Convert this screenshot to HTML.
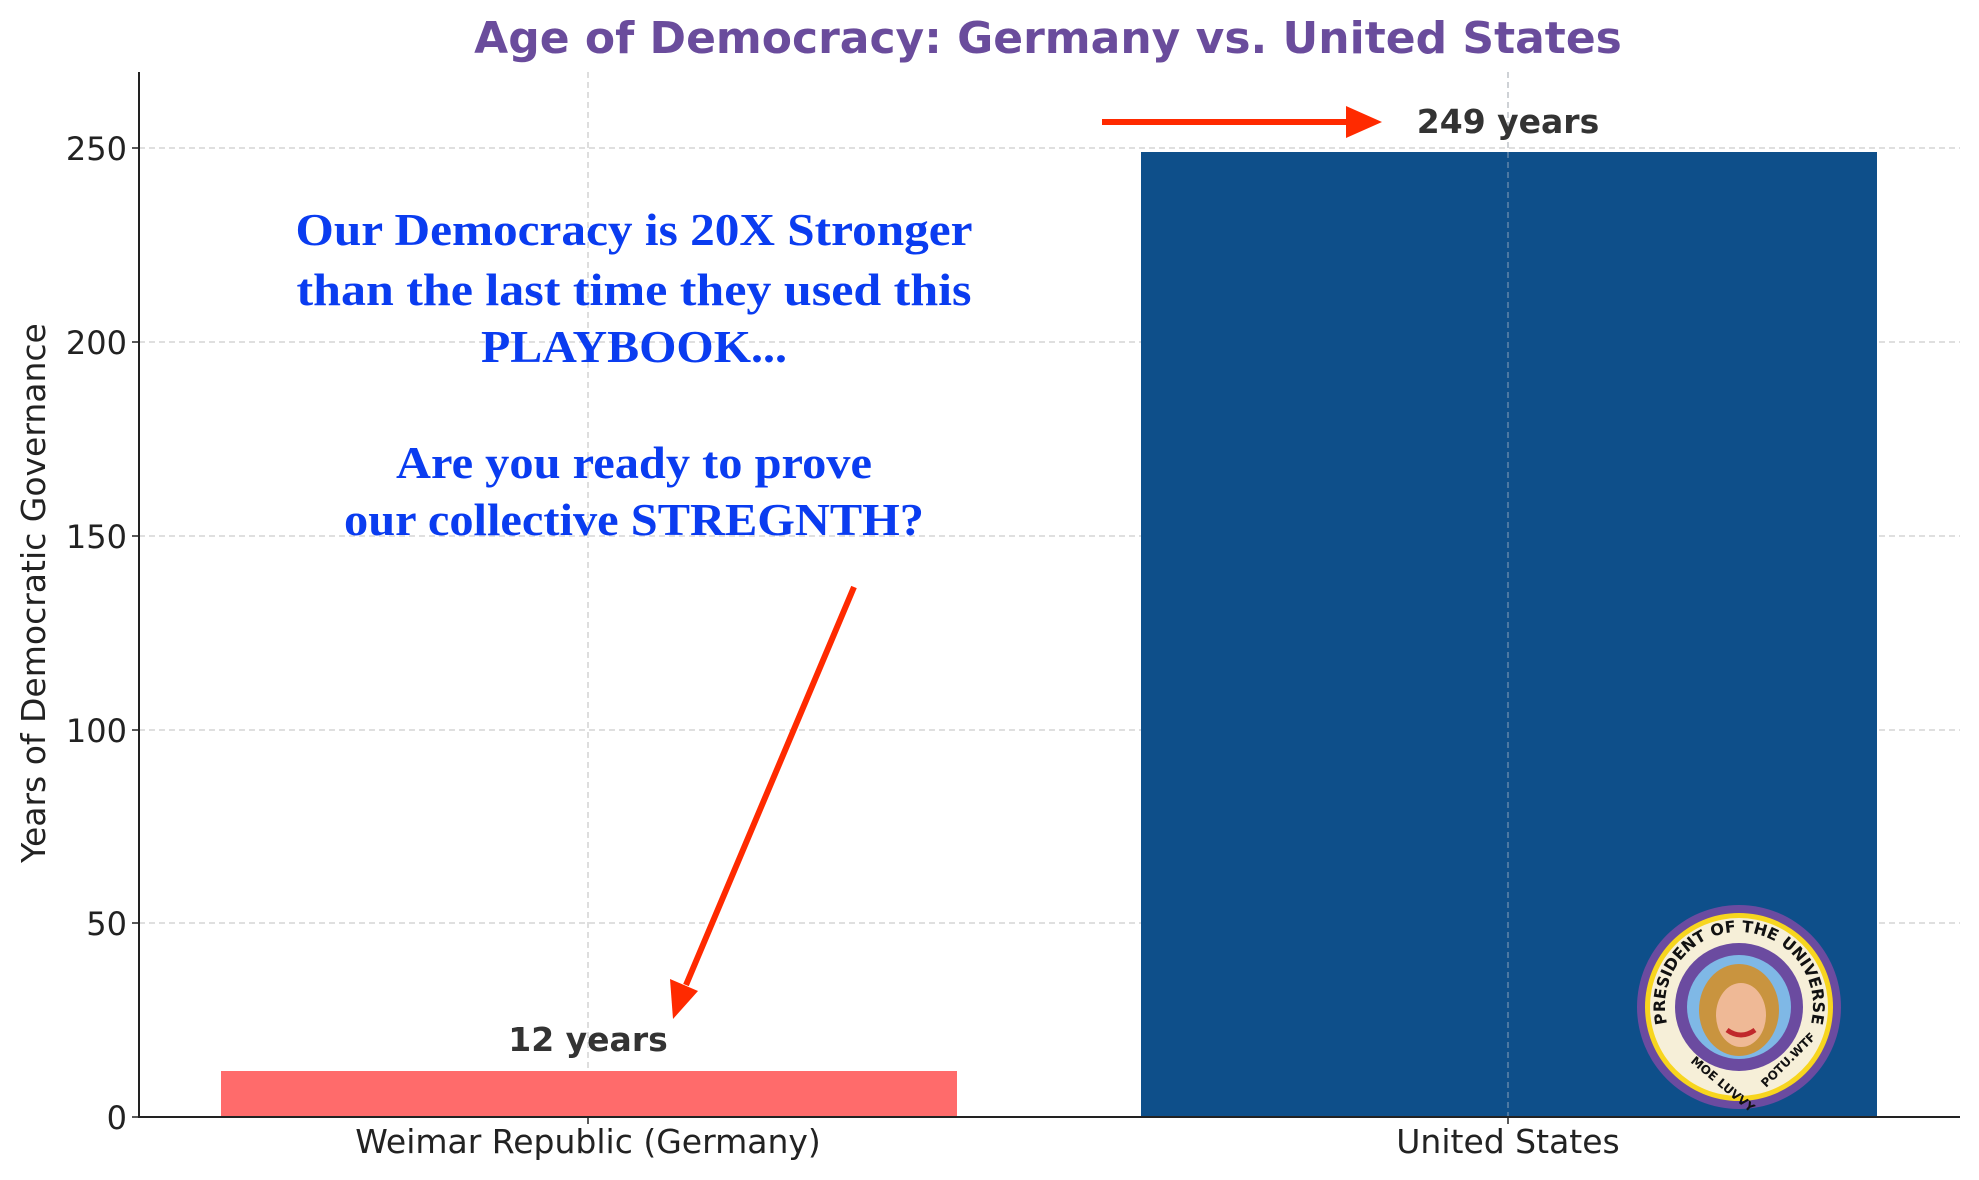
<!DOCTYPE html>
<html><head><meta charset="utf-8"><style>html,body{margin:0;padding:0;background:#fff}svg{display:block}</style></head>
<body>
<svg width="1979" height="1180" viewBox="0 0 1979 1180" xmlns="http://www.w3.org/2000/svg" font-family="DejaVu Sans, Liberation Sans, sans-serif">
<rect width="1979" height="1180" fill="#fff"/>
<!-- grid -->
<g stroke="#cccccc" stroke-width="1.3" stroke-dasharray="6,4">
<line x1="139" x2="1960" y1="148" y2="148"/>
<line x1="139" x2="1960" y1="342" y2="342"/>
<line x1="139" x2="1960" y1="536" y2="536"/>
<line x1="139" x2="1960" y1="730" y2="730"/>
<line x1="139" x2="1960" y1="923" y2="923"/>
<line x1="588" x2="588" y1="72" y2="1117"/>
</g>
<!-- bars -->
<rect x="221" y="1071" width="736" height="46" fill="#ff6b6b"/>
<rect x="1141" y="152" width="736" height="965" fill="#0e4f8a"/>
<line x1="1508" x2="1508" y1="72" y2="1117" stroke="#6f8fb0" stroke-width="1.3" stroke-dasharray="6,4"/>
<line x1="1508" x2="1508" y1="72" y2="152" stroke="#cccccc" stroke-width="1.3" stroke-dasharray="6,4"/>
<!-- axes -->
<line x1="139" x2="139" y1="72" y2="1118" stroke="#222" stroke-width="2"/>
<line x1="138" x2="1960" y1="1117" y2="1117" stroke="#222" stroke-width="2"/>
<g stroke="#222" stroke-width="1.5">
<line x1="132" x2="139" y1="148" y2="148"/><line x1="132" x2="139" y1="342" y2="342"/><line x1="132" x2="139" y1="536" y2="536"/><line x1="132" x2="139" y1="730" y2="730"/><line x1="132" x2="139" y1="923" y2="923"/><line x1="132" x2="139" y1="1117" y2="1117"/>
<line x1="588" x2="588" y1="1117" y2="1124"/><line x1="1508" x2="1508" y1="1117" y2="1124"/>
</g>
<g font-size="32" fill="#222" text-anchor="end">
<text x="127" y="160">250</text><text x="127" y="354">200</text><text x="127" y="548">150</text><text x="127" y="742">100</text><text x="127" y="935">50</text><text x="127" y="1129">0</text>
</g>
<g font-size="33" fill="#222" text-anchor="middle">
<text x="588" y="1153">Weimar Republic (Germany)</text>
<text x="1508" y="1153">United States</text>
</g>
<text transform="translate(45,593) rotate(-90)" font-size="33" fill="#222" text-anchor="middle">Years of Democratic Governance</text>
<text x="1048" y="53" font-size="44" font-weight="bold" fill="#6a4c9c" text-anchor="middle">Age of Democracy: Germany vs. United States</text>
<g font-size="33" font-weight="bold" fill="#333" text-anchor="middle">
<text x="588" y="1051">12 years</text>
<text x="1508" y="133">249 years</text>
</g>
<!-- arrows -->
<line x1="1102" y1="122" x2="1350" y2="122" stroke="#ff2a00" stroke-width="6"/>
<polygon points="1346,106 1382,122 1346,138" fill="#ff2a00"/>
<line x1="854" y1="587" x2="686" y2="985" stroke="#ff2a00" stroke-width="6"/>
<polygon points="670,979 698,991 673,1019" fill="#ff2a00"/>
<!-- blue text -->
<g font-family="Liberation Serif, serif" font-weight="bold" fill="#0a3cf0" text-anchor="middle" font-size="46">
<text x="634" y="245" textLength="677" lengthAdjust="spacingAndGlyphs">Our Democracy is 20X Stronger</text>
<text x="634" y="305" textLength="675" lengthAdjust="spacingAndGlyphs">than the last time they used this</text>
<text x="634" y="362" textLength="306" lengthAdjust="spacingAndGlyphs">PLAYBOOK...</text>
<text x="634" y="478" textLength="476" lengthAdjust="spacingAndGlyphs">Are you ready to prove</text>
<text x="634" y="535" textLength="580" lengthAdjust="spacingAndGlyphs">our collective STREGNTH?</text>
</g>
<!-- logo -->
<g>
<circle cx="1739" cy="1007" r="102" fill="#6b4ba0"/>
<circle cx="1739" cy="1007" r="94" fill="#f7d51e"/>
<circle cx="1739" cy="1007" r="89" fill="#f6efd8"/>
<circle cx="1739" cy="1007" r="64" fill="#6b4ba0"/>
<circle cx="1739" cy="1007" r="52" fill="#7fb8e6"/>
<ellipse cx="1739" cy="1010" rx="40" ry="46" fill="#c9943f"/>
<ellipse cx="1741" cy="1015" rx="25" ry="32" fill="#efb996"/>
<path d="M1727 1030 q14 10 28 0" stroke="#c0282b" stroke-width="5" fill="none"/>
<path id="arcT" d="M1669 1030 A74 74 0 1 1 1809 1030" fill="none"/>
<text font-size="16" font-weight="bold" fill="#111"><textPath href="#arcT" startOffset="50%" text-anchor="middle">PRESIDENT OF THE UNIVERSE</textPath></text>
<text x="1690" y="1062" font-size="12" font-weight="bold" fill="#111" transform="rotate(40 1690 1062)">MOE LUVVY</text>
<text x="1766" y="1088" font-size="12" font-weight="bold" fill="#111" transform="rotate(-45 1766 1088)">POTU.WTF</text>
</g>
</svg>
</body></html>
